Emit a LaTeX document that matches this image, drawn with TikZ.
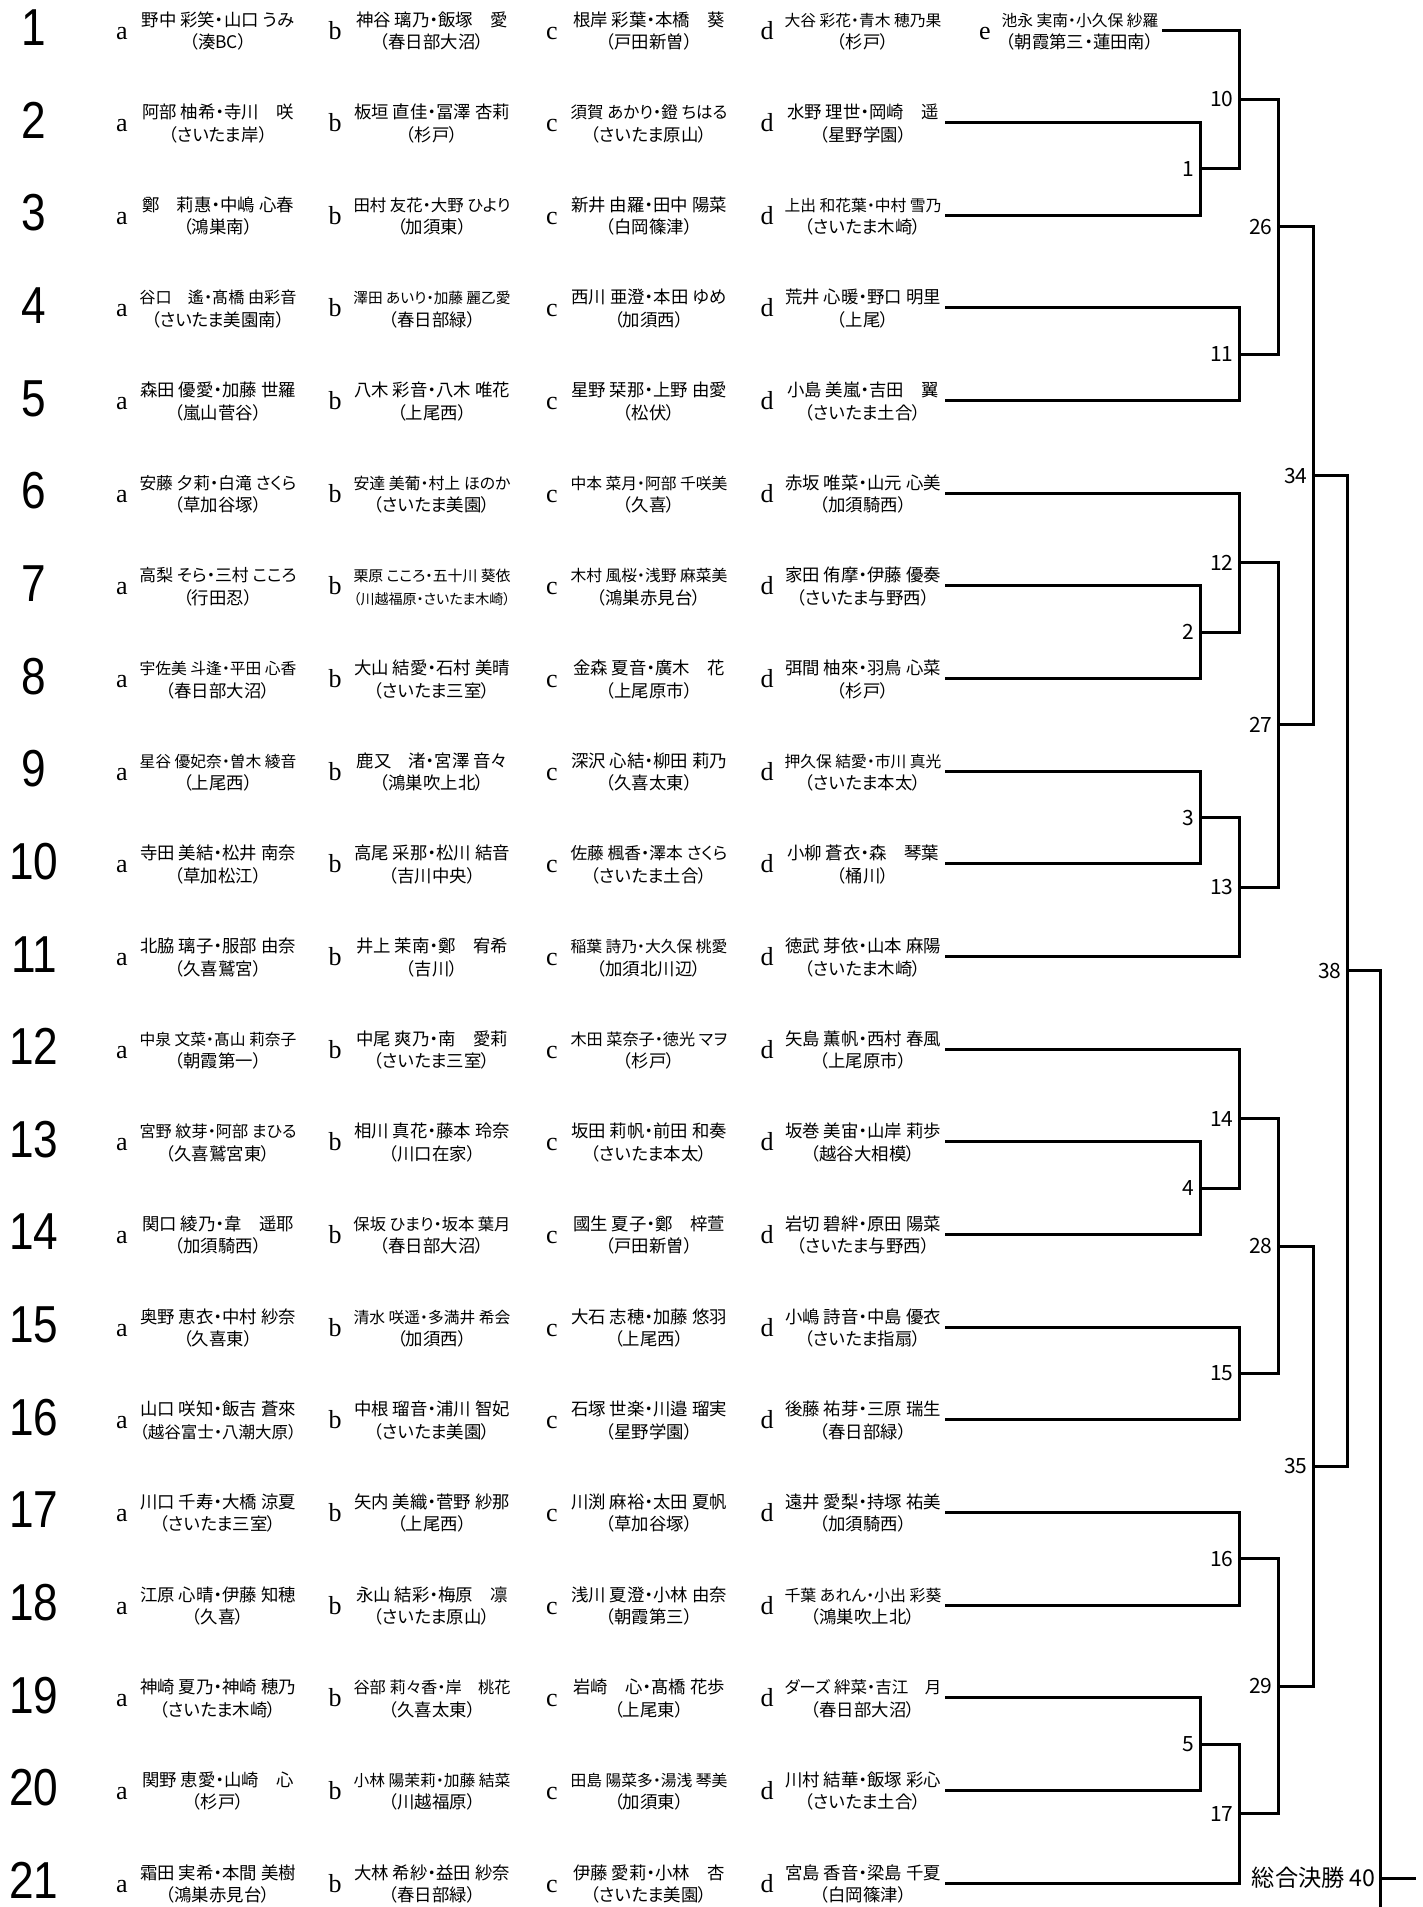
\documentclass[tikz,border=0pt]{standalone}
\usepackage{fontspec}
\usepackage{graphicx}
\usetikzlibrary{calc}
\newfontfamily\jp[RawFeature=+palt]{Noto Sans CJK JP}
\newfontfamily\lsans{Liberation Sans}
\newfontfamily\lserif{Liberation Serif}
\newsavebox\fitbox
\newcommand\fitto[2][78.5pt]{\sbox\fitbox{#2}\ifdim\wd\fitbox>#1\relax\resizebox{#1}{!}{\usebox\fitbox}\else\usebox\fitbox\fi}
\tikzset{
 rownum/.style={font=\lsans\fontsize{26}{26}\selectfont, inner sep=0, anchor=base},
 lett/.style={font=\lserif\fontsize{13}{13}\selectfont, inner sep=0, anchor=base},
 nm/.style={font=\jp\fontsize{8.7}{8.7}\selectfont, inner sep=0, anchor=base},
 mlab/.style={font=\jp\fontsize{10.5}{10.5}\selectfont, inner sep=0, anchor=east},
 finlab/.style={font=\jp\fontsize{11.6}{11.6}\selectfont, inner sep=0, anchor=east},
 br/.style={line width=1.5pt, line join=miter},
}
\newcommand\prow[9]{%
 \pgfmathsetmacro\ry{32+(#1-1)*92.65}%
 \node[rownum] (n#1) at (34,\ry+13.5) {\scalebox{0.85}[1]{#1}};
 \node[lett] (a#1) at (122,\ry+7) {a};
 \node[nm] (an#1) at (218,\ry-6) {\fitto{#2}};
 \node[nm] (as#1) at (218,\ry+16.5) {\fitto{#3}};
 \node[lett] (b#1) at (335,\ry+7) {b};
 \node[nm] (bn#1) at (432,\ry-6) {\fitto{#4}};
 \node[nm] (bs#1) at (432,\ry+16.5) {\fitto{#5}};
 \node[lett] (c#1) at (552,\ry+7) {c};
 \node[nm] (cn#1) at (649,\ry-6) {\fitto{#6}};
 \node[nm] (cs#1) at (649,\ry+16.5) {\fitto{#7}};
 \node[lett] (d#1) at (767,\ry+7) {d};
 \node[nm] (dn#1) at (863,\ry-6) {\fitto{#8}};
 \node[nm] (ds#1) at (863,\ry+16.5) {\fitto{#9}};
 \coordinate (s#1) at (945,\ry-2);
}
\newcommand\bmatch[5]{%
 \coordinate (u#1) at (#2 -| #4);
 \coordinate (v#1) at (#3 -| #4);
 \draw[br] (#2) -- (u#1) -- (v#1) -- (#3);
 \coordinate (m#1) at ($(u#1)!0.5!(v#1)$);
 \node[mlab] (t#1) at ($(m#1)+(-5,0)$) {#5};
}
\begin{document}
\begin{tikzpicture}[x=0.5pt,y=-0.5pt]
\useasboundingbox (0,0) rectangle (1423,1907);
\fill[white] (0,0) rectangle (1423,1907);
\prow{1}{野中 彩笑・山口 うみ}{（湊BC）}{神谷 璃乃・飯塚　愛}{（春日部大沼）}{根岸 彩葉・本橋　葵}{（戸田新曽）}{大谷 彩花・青木 穂乃果}{（杉戸）}
\node[lett] (e1) at (985,39) {e};
\node[nm] (en1) at (1080,26) {\fitto{池永 実南・小久保 紗羅}};
\node[nm] (es1) at (1080,48.5) {\fitto{（朝霞第三・蓮田南）}};
\coordinate (s1) at (1162,30);
\prow{2}{阿部 柚希・寺川　咲}{（さいたま岸）}{板垣 直佳・冨澤 杏莉}{（杉戸）}{須賀 あかり・鐙 ちはる}{（さいたま原山）}{水野 理世・岡崎　遥}{（星野学園）}
\prow{3}{鄭　莉惠・中嶋 心春}{（鴻巣南）}{田村 友花・大野 ひより}{（加須東）}{新井 由羅・田中 陽菜}{（白岡篠津）}{上出 和花葉・中村 雪乃}{（さいたま木崎）}
\prow{4}{谷口　遙・髙橋 由彩音}{（さいたま美園南）}{澤田 あいり・加藤 麗乙愛}{（春日部緑）}{西川 亜澄・本田 ゆめ}{（加須西）}{荒井 心暖・野口 明里}{（上尾）}
\prow{5}{森田 優愛・加藤 世羅}{（嵐山菅谷）}{八木 彩音・八木 唯花}{（上尾西）}{星野 栞那・上野 由愛}{（松伏）}{小島 美嵐・吉田　翼}{（さいたま土合）}
\prow{6}{安藤 夕莉・白滝 さくら}{（草加谷塚）}{安達 美葡・村上 ほのか}{（さいたま美園）}{中本 菜月・阿部 千咲美}{（久喜）}{赤坂 唯菜・山元 心美}{（加須騎西）}
\prow{7}{高梨 そら・三村 こころ}{（行田忍）}{栗原 こころ・五十川 葵依}{（川越福原・さいたま木崎）}{木村 風桜・浅野 麻菜美}{（鴻巣赤見台）}{家田 侑摩・伊藤 優奏}{（さいたま与野西）}
\prow{8}{宇佐美 斗逢・平田 心香}{（春日部大沼）}{大山 結愛・石村 美晴}{（さいたま三室）}{金森 夏音・廣木　花}{（上尾原市）}{弭間 柚來・羽鳥 心菜}{（杉戸）}
\prow{9}{星谷 優妃奈・曽木 綾音}{（上尾西）}{鹿又　渚・宮澤 音々}{（鴻巣吹上北）}{深沢 心結・柳田 莉乃}{（久喜太東）}{押久保 結愛・市川 真光}{（さいたま本太）}
\prow{10}{寺田 美結・松井 南奈}{（草加松江）}{高尾 采那・松川 結音}{（吉川中央）}{佐藤 楓香・澤本 さくら}{（さいたま土合）}{小柳 蒼衣・森　琴葉}{（桶川）}
\prow{11}{北脇 璃子・服部 由奈}{（久喜鷲宮）}{井上 茉南・鄭　宥希}{（吉川）}{稲葉 詩乃・大久保 桃愛}{（加須北川辺）}{徳武 芽依・山本 麻陽}{（さいたま木崎）}
\prow{12}{中泉 文菜・髙山 莉奈子}{（朝霞第一）}{中尾 爽乃・南　愛莉}{（さいたま三室）}{木田 菜奈子・徳光 マヲ}{（杉戸）}{矢島 薫帆・西村 春風}{（上尾原市）}
\prow{13}{宮野 紋芽・阿部 まひる}{（久喜鷲宮東）}{相川 真花・藤本 玲奈}{（川口在家）}{坂田 莉帆・前田 和奏}{（さいたま本太）}{坂巻 美宙・山岸 莉歩}{（越谷大相模）}
\prow{14}{関口 綾乃・韋　遥耶}{（加須騎西）}{保坂 ひまり・坂本 葉月}{（春日部大沼）}{國生 夏子・鄭　梓萱}{（戸田新曽）}{岩切 碧絆・原田 陽菜}{（さいたま与野西）}
\prow{15}{奥野 恵衣・中村 紗奈}{（久喜東）}{清水 咲遥・多満井 希会}{（加須西）}{大石 志穂・加藤 悠羽}{（上尾西）}{小嶋 詩音・中島 優衣}{（さいたま指扇）}
\prow{16}{山口 咲知・飯吉 蒼來}{（越谷富士・八潮大原）}{中根 瑠音・浦川 智妃}{（さいたま美園）}{石塚 世楽・川邉 瑠実}{（星野学園）}{後藤 祐芽・三原 瑞生}{（春日部緑）}
\prow{17}{川口 千寿・大橋 涼夏}{（さいたま三室）}{矢内 美織・菅野 紗那}{（上尾西）}{川渕 麻裕・太田 夏帆}{（草加谷塚）}{遠井 愛梨・持塚 祐美}{（加須騎西）}
\prow{18}{江原 心晴・伊藤 知穂}{（久喜）}{永山 結彩・梅原　凛}{（さいたま原山）}{浅川 夏澄・小林 由奈}{（朝霞第三）}{千葉 あれん・小出 彩葵}{（鴻巣吹上北）}
\prow{19}{神崎 夏乃・神崎 穂乃}{（さいたま木崎）}{谷部 莉々香・岸　桃花}{（久喜太東）}{岩崎　心・髙橋 花歩}{（上尾東）}{ダーズ 絆菜・吉江　月}{（春日部大沼）}
\prow{20}{関野 恵愛・山崎　心}{（杉戸）}{小林 陽茉莉・加藤 結菜}{（川越福原）}{田島 陽菜多・湯浅 琴美}{（加須東）}{川村 結華・飯塚 彩心}{（さいたま土合）}
\prow{21}{霜田 実希・本間 美樹}{（鴻巣赤見台）}{大林 希紗・益田 紗奈}{（春日部緑）}{伊藤 愛莉・小林　杏}{（さいたま美園）}{宮島 香音・梁島 千夏}{（白岡篠津）}
% bracket columns
\coordinate (XA) at (1200,0);
\coordinate (XB) at (1239,0);
\coordinate (XC) at (1278,0);
\coordinate (XD) at (1313,0);
\coordinate (XE) at (1347,0);
\coordinate (XF) at (1380,0);
\bmatch{1}{s2}{s3}{XA}{1}
\bmatch{10}{s1}{m1}{XB}{10}
\bmatch{11}{s4}{s5}{XB}{11}
\bmatch{26}{m10}{m11}{XC}{26}
\bmatch{2}{s7}{s8}{XA}{2}
\bmatch{12}{s6}{m2}{XB}{12}
\bmatch{3}{s9}{s10}{XA}{3}
\bmatch{13}{m3}{s11}{XB}{13}
\bmatch{27}{m12}{m13}{XC}{27}
\bmatch{34}{m26}{m27}{XD}{34}
\bmatch{4}{s13}{s14}{XA}{4}
\bmatch{14}{s12}{m4}{XB}{14}
\bmatch{15}{s15}{s16}{XB}{15}
\bmatch{28}{m14}{m15}{XC}{28}
\bmatch{16}{s17}{s18}{XB}{16}
\bmatch{5}{s19}{s20}{XA}{5}
\bmatch{17}{m5}{s21}{XB}{17}
\bmatch{29}{m16}{m17}{XC}{29}
\bmatch{35}{m28}{m29}{XD}{35}
\bmatch{38}{m34}{m35}{XE}{38}
\coordinate (bot) at (1380,1907);
\coordinate (fin) at (1416,1878);
\coordinate (fx) at (fin -| XF);
\coordinate (u40) at (m38 -| XF);
\draw[br] (m38) -- (u40) -- (bot);
\draw[br] (fx) -- (fin);
\node[finlab] (t40) at ($(fx)+(-4,0)$) {総合決勝 40};
\end{tikzpicture}
\end{document}
